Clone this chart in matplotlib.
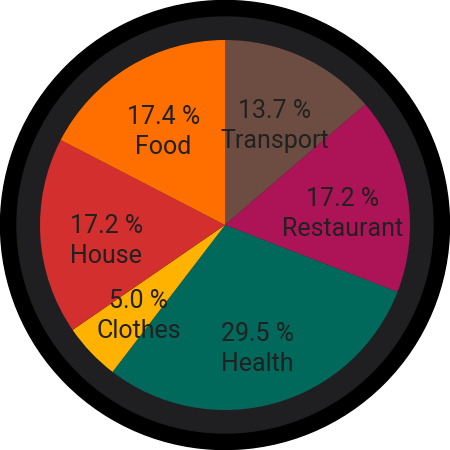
import matplotlib
matplotlib.use("Agg")
import matplotlib.pyplot as plt
import numpy as np
from matplotlib.patches import Circle

categories = ["Transport", "Restaurant", "Health", "Clothes", "House", "Food"]
values = [13.7, 17.2, 29.5, 5.0, 17.2, 17.4]
colors = ["#6D4C41", "#AD1457", "#00695C", "#FFB300", "#D32F2F", "#FF6F00"]

plt.rcParams['font.family'] = ['Roboto', 'DejaVu Sans']

fig = plt.figure(figsize=(4.5, 4.5), dpi=100)
ax = fig.add_axes([0, 0, 1, 1])

ax.add_patch(Circle((0, 0), 224.5, color="#000000", zorder=0))
ax.add_patch(Circle((0, 0), 208, color="#1F1F21", zorder=1))

R = 185
wedges, _ = ax.pie(values, colors=colors, startangle=90, counterclock=False,
                   radius=R, center=(0, 0), frame=True,
                   wedgeprops=dict(linewidth=0, zorder=2))
ax.set_xlim(-225, 225)
ax.set_ylim(-225, 225)
ax.set_aspect('equal')
ax.axis('off')

dist = 119
for w, cat, v in zip(wedges, categories, values):
    ang = np.deg2rad((w.theta1 + w.theta2) / 2)
    x, yc = dist * np.cos(ang), dist * np.sin(ang) - 6.8
    ax.text(x, yc + 5.85, f"{v:.1f} %", ha="center", va="baseline",
            fontsize=18, color="#212121", zorder=3)
    ax.text(x, yc - 24.15, cat, ha="center", va="baseline",
            fontsize=18, color="#212121", zorder=3)

fig.savefig("out.png", dpi=100, facecolor="white")
